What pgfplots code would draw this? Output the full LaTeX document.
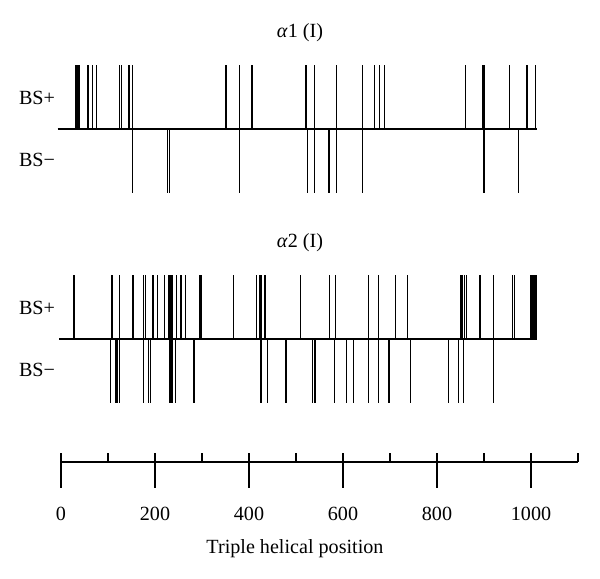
\documentclass[border=0pt]{standalone}
\usepackage{pgfplots}
\pgfplotsset{compat=1.18}
\usepackage{fontspec}
\setmainfont{Liberation Serif}
\newcommand{\fs}{\fontsize{20.2}{24}\selectfont}

\pgfplotstableread{
pos val
31.9 1
34.0 1
36.2 1
38.9 1
57.4 1
66.6 1
76.0 1
124.0 1
129.1 1
144.7 1
151.7 1
351.1 1
379.4 1
406.4 1
521.3 1
538.9 1
586.6 1
641.9 1
666.4 1
677.7 1
687.7 1
861.3 1
897.2 1
900.0 1
954.3 1
991.5 1
1009.6 1
}\aonePlus
\pgfplotstableread{
pos val
151.7 -1
226.2 -1
231.3 -1
379.4 -1
524.9 -1
539.4 -1
570.2 -1
586.6 -1
641.9 -1
900.0 -1
973.0 -1
}\aoneMinus
\pgfplotstableread{
pos val
27.7 1
107.9 1
110.0 1
123.7 1
153.2 1
175.1 1
179.8 1
195.7 1
206.0 1
220.2 1
229.1 1
231.9 1
234.7 1
237.2 1
246.2 1
255.3 1
264.3 1
295.7 1
297.9 1
367.4 1
415.5 1
423.4 1
426.6 1
434.0 1
509.6 1
571.3 1
583.4 1
654.3 1
675.5 1
711.3 1
736.8 1
851.1 1
854.9 1
858.1 1
862.8 1
891.5 1
920.2 1
960.2 1
965.3 1
1000.0 1
1002.8 1
1005.7 1
1008.5 1
1011.3 1
}\atwoPlus
\pgfplotstableread{
pos val
105.7 -1
117.0 -1
120.6 -1
123.7 -1
174.7 -1
185.5 -1
190.6 -1
231.9 -1
234.0 -1
236.8 -1
243.8 -1
283.0 -1
424.5 -1
427.0 -1
440.0 -1
478.7 -1
535.1 -1
540.4 -1
581.5 -1
608.1 -1
623.0 -1
654.3 -1
675.5 -1
697.9 -1
743.2 -1
825.1 -1
846.4 -1
856.8 -1
920.9 -1
}\atwoMinus

\begin{document}
\begin{tikzpicture}[x=1bp,y=1bp]
\useasboundingbox (0,0) rectangle (600,579);
\pgfplotsset{panel/.style={anchor=south west, x=0.47bp, y=64bp, xmin=-10, xmax=1100, ymin=-1, ymax=1, hide axis, clip=false}}

\begin{axis}[panel, at={(56.3bp,386bp)}]
\addplot[black, line width=1.3bp] coordinates {(-7,0) (1013,0)};
\addplot[ycomb, black, line width=1.2bp, no marks] table[x=pos,y=val] {\aonePlus};
\addplot[ycomb, black, line width=1.2bp, no marks] table[x=pos,y=val] {\aoneMinus};
\end{axis}

\begin{axis}[panel, at={(56.3bp,176bp)}]
\addplot[black, line width=1.3bp] coordinates {(-4,0) (1013,0)};
\addplot[ycomb, black, line width=1.2bp, no marks] table[x=pos,y=val] {\atwoPlus};
\addplot[ycomb, black, line width=1.2bp, no marks] table[x=pos,y=val] {\atwoMinus};
\end{axis}

\begin{axis}[anchor=south west, at={(61bp,117bp)}, x=0.47bp, y=10bp, xmin=0, xmax=1100, ymin=0, ymax=1,
  axis y line=none, axis x line*=bottom, axis line style={black, line width=1.2bp},
  xtick={0,100,...,1100}, xticklabels={}, tick align=inside, major tick length=9bp,
  tick style={black, line width=1.1bp},
  extra x ticks={0,200,...,1000}, extra x tick labels={0,200,400,600,800,1000},
  extra x tick style={tick align=outside, major tick length=26bp},
  /pgf/number format/assume math mode=true,
  xticklabel style={font=\fs, yshift=-16bp},
  clip=false]
\addplot[draw=none] coordinates {(0,0) (1100,0)};
\end{axis}

\node[font=\fs] at (300,546) {\textit{α}1 (I)};
\node[font=\fs] at (300,336) {\textit{α}2 (I)};
\node[font=\fs] at (37,481) {BS+};
\node[font=\fs] at (37,419) {BS−};
\node[font=\fs] at (37,271) {BS+};
\node[font=\fs] at (37,209) {BS−};
\node[font=\fs] at (295,30) {Triple helical position};
\end{tikzpicture}
\end{document}
